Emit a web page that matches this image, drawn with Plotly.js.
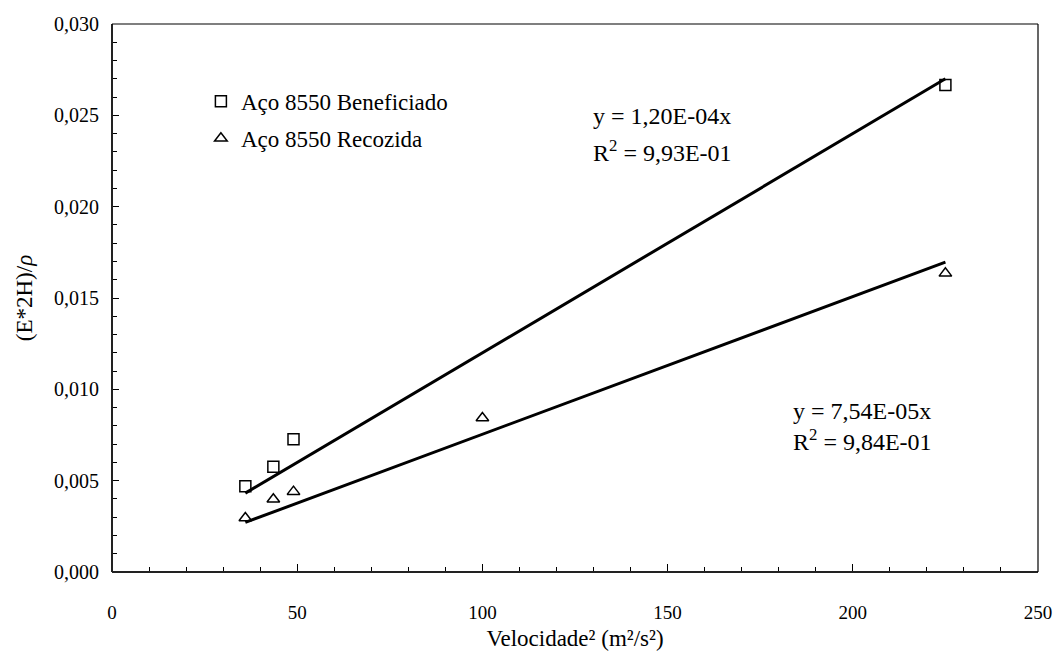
<!DOCTYPE html>
<html>
<head>
<meta charset="utf-8">
<script src="https://cdn.plot.ly/plotly-3.0.1.min.js"></script>
<style>
  html, body { margin: 0; padding: 0; background: #fff; }
  #chart { width: 1057px; height: 651px; }
</style>
</head>
<body>
<div id="chart"></div>
<script>
// Squared impact velocity (m²/s²) and the measured (E*2H)/ρ values
const velBeneficiado = [36, 43.56, 49, 225];
const valBeneficiado = [0.0047, 0.00576, 0.00727, 0.02666];

const velRecozida = [36, 43.56, 49, 100, 225];
const valRecozida = [0.00296, 0.00398, 0.0044, 0.00843, 0.01635];

// Linear fits through the origin
const slopeBeneficiado = 1.20e-4;
const slopeRecozida = 7.54e-5;
const fitRange = [36, 225];

const seriesNames = ['Aço 8550 Beneficiado', 'Aço 8550 Recozida'];
const fitLabels = [
  ['y = 1,20E-04x', 'R<sup>2</sup> = 9,93E-01'],
  ['y = 7,54E-05x', 'R<sup>2</sup> = 9,84E-01']
];

const serif = '"Liberation Serif", serif';

const traces = [
  {
    x: fitRange, y: fitRange.map(v => v * slopeBeneficiado),
    mode: 'lines', line: {color: '#000', width: 3}, showlegend: false, hoverinfo: 'skip'
  },
  {
    x: fitRange, y: fitRange.map(v => v * slopeRecozida),
    mode: 'lines', line: {color: '#000', width: 3}, showlegend: false, hoverinfo: 'skip'
  },
  {
    x: velBeneficiado, y: valBeneficiado, name: seriesNames[0], legendgroup: 'a',
    mode: 'markers',
    marker: {symbol: 'square-open', size: 11, color: '#000', line: {width: 1.5, color: '#000'}}
  },
  {
    x: velRecozida, y: valRecozida, name: seriesNames[1], legendgroup: 'b',
    mode: 'markers',
    marker: {symbol: 'triangle-up-open', size: 11, color: '#000', line: {width: 1.5, color: '#000'}}
  }
];

const layout = {
  width: 1057, height: 651,
  margin: {l: 112, r: 19, t: 24, b: 79},
  paper_bgcolor: '#fff', plot_bgcolor: '#fff',
  separators: ',.',
  font: {family: serif, color: '#000', size: 18},
  showlegend: true,
  legend: {
    x: 0.096, y: 0.898, xanchor: 'left', yanchor: 'top',
    bgcolor: 'rgba(0,0,0,0)', borderwidth: 0,
    font: {family: serif, size: 23, color: '#000'},
    traceorder: 'grouped', tracegroupgap: 4
  },
  xaxis: {
    range: [0, 250], dtick: 50, tick0: 0,
    showgrid: false, zeroline: false, showline: false,
    ticks: 'inside', ticklen: 8, tickwidth: 1, tickcolor: '#000',
    minor: {dtick: 10, ticks: 'inside', ticklen: 5, tickwidth: 1, tickcolor: '#000', showgrid: false},
    tickfont: {family: serif, size: 19, color: '#000'},
    ticklabelstandoff: 27,
    title: {text: 'Velocidade² (m²/s²)', font: {family: serif, size: 23, color: '#000'}, standoff: 12}
  },
  yaxis: {
    range: [0, 0.030], dtick: 0.005, tick0: 0, tickformat: '.3f',
    showgrid: false, zeroline: false, showline: false,
    ticks: 'inside', ticklen: 7, tickwidth: 1, tickcolor: '#000',
    minor: {dtick: 0.001, ticks: 'inside', ticklen: 5, tickwidth: 1, tickcolor: '#000', showgrid: false},
    tickfont: {family: serif, size: 20, color: '#000'},
    ticklabelstandoff: 12,
    title: {text: '(E*2H)/<i>ρ</i>', font: {family: serif, size: 23, color: '#000'}, standoff: 14}
  },
  shapes: [
    // axis frame: heavier left/bottom, thin top/right
    {type: 'line', xref: 'paper', yref: 'paper', x0: 0, x1: 1, y0: 0, y1: 0, line: {color: '#222', width: 2}},
    {type: 'line', xref: 'paper', yref: 'paper', x0: 0, x1: 0, y0: 0, y1: 1, line: {color: '#222', width: 2}},
    {type: 'line', xref: 'paper', yref: 'paper', x0: 0, x1: 1, y0: 1, y1: 1, line: {color: '#000', width: 1.2}},
    {type: 'line', xref: 'paper', yref: 'paper', x0: 1, x1: 1, y0: 0, y1: 1, line: {color: '#000', width: 1.2}}
  ],
  annotations: [
    {x: 129.4, y: 0.02496, text: fitLabels[0][0]},
    {x: 129.4, y: 0.02305, text: fitLabels[0][1]},
    {x: 183.4, y: 0.00881, text: fitLabels[1][0]},
    {x: 183.4, y: 0.0072, text: fitLabels[1][1]}
  ].map(a => Object.assign({
    xref: 'x', yref: 'y', xanchor: 'left', yanchor: 'middle', showarrow: false,
    font: {family: serif, size: 24, color: '#000'}
  }, a))
};

Plotly.newPlot('chart', traces, layout, {displayModeBar: false, staticPlot: true});
</script>
</body>
</html>
